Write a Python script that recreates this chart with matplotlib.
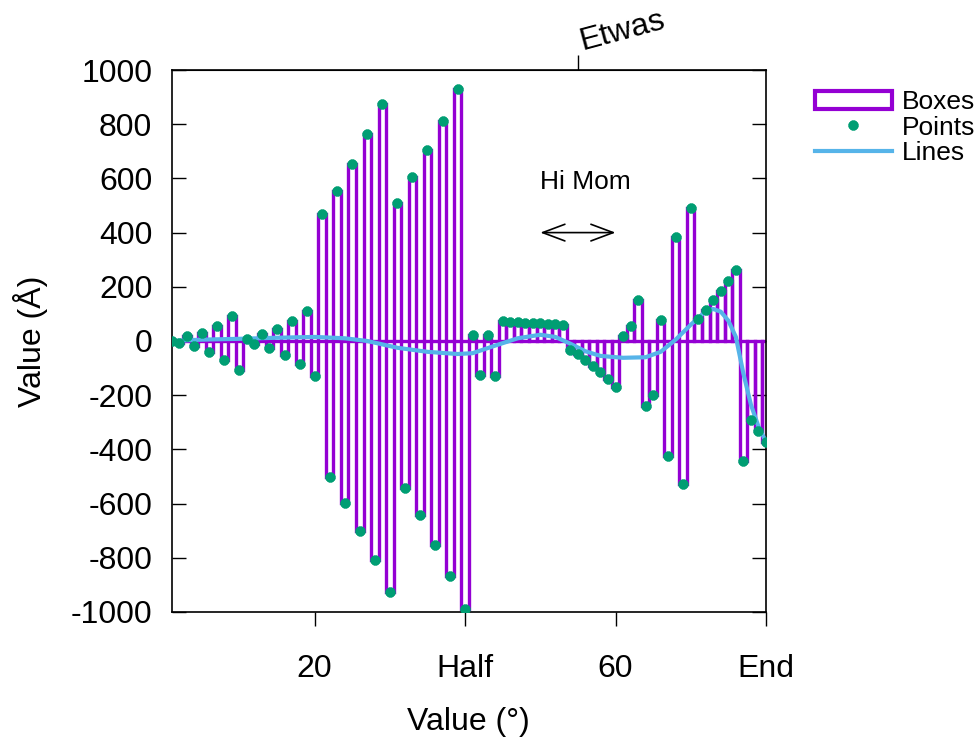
import matplotlib
matplotlib.use('Agg')
import matplotlib.pyplot as plt
from matplotlib.patches import Rectangle
from matplotlib.lines import Line2D

plt.rcParams['font.family'] = ['Liberation Sans', 'DejaVu Sans']

# ---- data ----
x_vals = list(range(1, 81))
box_vals = [0, -8, 17, -18, 29, -41, 57, -70, 91, -107,
            8, -12, 25, -27, 43, -52, 72, -85, 110, -129,
            468, -502, 555, -597, 654, -700, 762, -807, 875, -925,
            508, -544, 604, -643, 703, -751, 812, -866, 931, -990,
            23, -124, 23, -130, 72, 71, 70, 68, 66, 65,
            63, 62, 60, -33, -47, -70, -91, -115, -142, -168,
            20, 55, 150, -241, -201, 78, -423, 384, -528, 491,
            82, 115, 150, 183, 220, 263, -442, -290, -333, -374]
line_x = [1, 5, 10, 15, 20, 24, 27, 31, 35, 39, 41, 44, 47, 50, 52, 54, 56,
          58, 61, 64, 66, 68, 70, 72, 73, 74, 75, 76, 77, 78, 79, 80]
line_y = [0, 5, 8, 12, 15, 10, 0, -25, -40, -48, -45, -17, 10, 23, 15, -10, -38,
          -55, -62, -60, -40, 5, 60, 110, 118, 108, 75, 15, -120, -235, -315, -372]
xtick_pos = [20, 40, 60, 80]
xtick_labels = ['20', 'Half', '60', 'End']
ytick_pos = list(range(-1000, 1001, 200))
x2tick_pos = [55]
x2tick_labels = ['Etwas']
label_text = 'Hi Mom'
label_pos = (50, 585)
arrow_from = (50, 400)
arrow_to = (60, 400)

c_box = '#9400D3'
c_pts = '#009E73'
c_line = '#56B4E9'
big = 23
small = 19

fig = plt.figure(figsize=(9.75, 7.4), dpi=100)
ax = fig.add_axes([0.1761, 0.1730, 0.6095, 0.7324])

ax.bar(x_vals, box_vals, width=1.0, fill=False, edgecolor=c_box,
       linewidth=2.4, zorder=2)
ax.plot(line_x, line_y, color=c_line, linewidth=3.0, zorder=3,
        solid_capstyle='round', solid_joinstyle='round')
ax.plot(x_vals, box_vals, linestyle='none', marker=(8, 2, 0), markersize=7,
        markeredgewidth=2.6, color=c_pts, zorder=4)

ax.set_xlim(1, 80)
ax.set_ylim(-1000, 1000)

ax.set_xticks(xtick_pos, labels=xtick_labels)
ax.set_yticks(ytick_pos, labels=[str(v) for v in ytick_pos])
ax.tick_params(axis='x', direction='out', length=10, width=1.0,
               labelsize=big, pad=20, top=False)
ax.tick_params(axis='y', direction='in', length=10, width=1.0,
               labelsize=big, pad=14, left=True, right=True)
for s in ax.spines.values():
    s.set_linewidth(1.2)
    s.set_color('black')

ax.set_xlabel('Value (°)', fontsize=big, labelpad=17)
ax.set_ylabel('Value (Å)', fontsize=big, labelpad=16)

# top axis: single tick with rotated label
sec = ax.secondary_xaxis('top')
sec.set_xticks(x2tick_pos, labels=[''] * len(x2tick_pos))
sec.tick_params(axis='x', direction='out', length=11, width=1.0)
for pos, lab in zip(x2tick_pos, x2tick_labels):
    ax.annotate(lab, xy=(pos, 1.0), xycoords=('data', 'axes fraction'),
                xytext=(4, 20), textcoords='offset pixels', fontsize=big,
                rotation=15, rotation_mode='anchor', ha='left', va='baseline',
                annotation_clip=False)

ax.text(label_pos[0], label_pos[1], label_text, fontsize=small,
        ha='left', va='center')
ax.annotate('', xy=arrow_to, xytext=arrow_from,
            arrowprops=dict(arrowstyle='<->,head_length=0.8,head_width=0.3',
                            color='black', lw=1.2, mutation_scale=20,
                            shrinkA=0, shrinkB=0))

handles = [Rectangle((0, 0), 1, 1, fill=False, edgecolor=c_box, linewidth=3),
           Line2D([], [], linestyle='none', marker=(8, 2, 0), markersize=7,
                  markeredgewidth=2.6, color=c_pts),
           Line2D([], [], color=c_line, linewidth=3)]
fig.legend(handles, ['Boxes', 'Points', 'Lines'], loc='upper left',
           bbox_to_anchor=(0.836, 0.878), frameon=False, fontsize=small,
           handlelength=2.9, handletextpad=0.4, labelspacing=0.05,
           borderaxespad=0, borderpad=0)

fig.savefig('out.png', dpi=100)
